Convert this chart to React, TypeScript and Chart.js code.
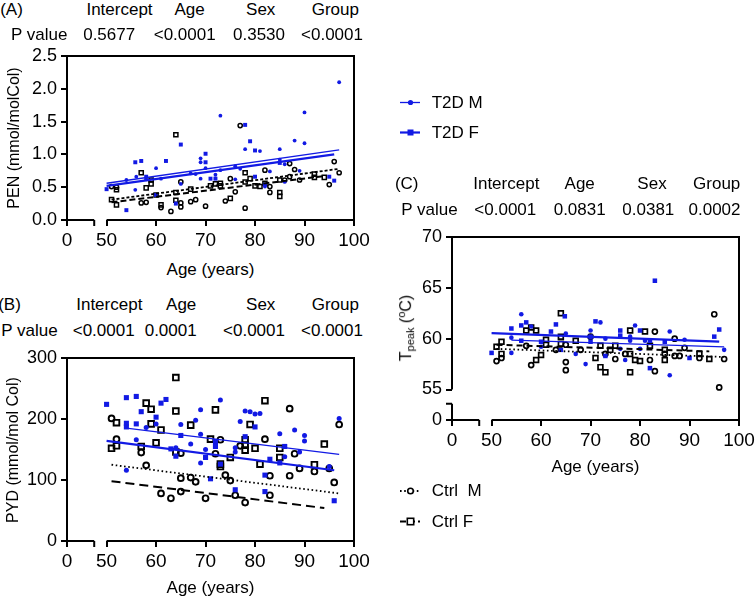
import { useEffect, useRef } from "react";
import { Chart, registerables } from "chart.js";

Chart.register(...registerables);

type Pt = [number, number];

const FONT = "'Liberation Sans', Arial, Helvetica, sans-serif";
const BLUE = "rgb(18, 26, 228)";
const INK = "#000";

// Age axis: the value X_ZERO is shown as "0", followed by a break up to 50.
const X_ZERO = 42;
const X_BREAK = 47.5;
const X_TICKS = [X_ZERO, 50, 60, 70, 80, 90, 100];

const HEAD_COLS = ["Intercept", "Age", "Sex", "Group"];

// ---------- (A) PEN ----------
const P_VALUES_A = ["0.5677", "<0.0001", "0.3530", "<0.0001"];
const PEN_Y_TICKS = [0, 0.5, 1, 1.5, 2, 2.5];
const PEN_T2D_M: Pt[] = [
  [54, 0.61], [56, 0.66], [55.8, 0.46], [58, 0.62], [60, 0.79], [61, 0.63], [65, 0.55],
  [69, 0.94], [69, 0.88], [70, 0.79], [69, 0.63], [67, 0.71], [68, 0.7], [73, 1.59],
  [73, 0.76], [72, 0.69], [78, 1.08], [77, 0.78], [76, 0.82], [76, 0.62], [81, 1.05],
  [82, 0.51], [83, 0.74], [85, 1.08], [85, 0.92], [86, 0.85], [86, 0.58], [88, 1.21],
  [89, 0.75], [90, 1.64], [90, 1.17], [97, 2.1],
];
const PEN_T2D_F: Pt[] = [
  [50, 0.47], [55.8, 0.88], [57, 0.9], [54, 0.15], [62, 0.9], [60, 0.38], [65, 1.15],
  [64, 0.25], [70, 1.01], [70, 0.88], [71, 0.63], [72, 0.63], [78, 1.45], [79, 1.2],
  [80, 1.06], [80, 0.66], [82, 0.54], [85, 0.87], [95, 0.66], [96, 0.6], [58, 0.66],
];
const PEN_CTRL_M: Pt[] = [
  [51, 0.51], [52, 0.5], [57, 0.26], [58, 0.27], [61, 0.19], [63, 0.13], [65, 0.58],
  [65, 0.26], [65, 0.2], [67, 0.28], [68, 0.31], [70, 0.21], [74, 0.29], [75, 0.63],
  [76, 0.43], [77, 1.44], [78, 0.18], [82, 0.76], [83, 0.51], [83, 0.42], [86, 0.61],
  [87, 0.86], [87, 0.66], [88, 0.77], [89, 0.61], [95, 0.54], [96, 0.89], [97, 0.72],
];
const PEN_CTRL_F: Pt[] = [
  [51, 0.31], [52, 0.46], [52, 0.23], [57, 0.72], [58, 0.49], [59, 0.55], [59, 0.61],
  [60, 0.38], [61, 0.23], [64, 1.3], [64, 0.42], [64, 0.3], [67, 0.47], [71, 0.52],
  [72, 0.55], [73, 0.56], [73, 0.52], [75, 0.33], [78, 0.72], [78, 0.58], [79, 0.63],
  [80, 0.52], [81, 0.51], [82, 0.56], [85, 0.42], [85, 0.36], [85, 0.61], [92, 0.7],
  [92, 0.65], [94, 0.65],
];
const PEN_FIT_T2D_M: Pt[] = [[50, 0.56], [97, 1.07]];
const PEN_FIT_T2D_F: Pt[] = [[50, 0.52], [96, 1.0]];
const PEN_FIT_CTRL_M: Pt[] = [[51, 0.31], [97, 0.78]];
const PEN_FIT_CTRL_F: Pt[] = [[51, 0.27], [94, 0.67]];

// ---------- (B) PYD ----------
const P_VALUES_B = ["<0.0001", "0.0001", "<0.0001", "<0.0001"];
const PYD_Y_TICKS = [0, 100, 200, 300];
const PYD_T2D_M: Pt[] = [
  [58, 186], [60, 192], [56, 166], [54, 116], [65, 191], [64, 153], [67, 159], [68, 198],
  [69, 215], [69, 175], [69, 128], [70, 150], [73, 231], [76, 146], [76, 153], [77, 196],
  [78, 213], [79, 212], [80, 208], [81, 209], [85, 176], [86, 138], [88, 182], [89, 146],
  [90, 173], [90, 164], [95, 122], [97, 201],
];
const PYD_T2D_F: Pt[] = [
  [50, 224], [54, 235], [56, 237], [57, 212], [61, 226], [62, 232], [54, 193], [54, 187],
  [56, 192], [60, 203], [65, 173], [63, 151], [64, 139], [70, 137], [71, 102], [72, 163],
  [72, 155], [73, 126], [76, 84], [78, 171], [80, 187], [82, 108], [82, 81], [83, 134],
  [85, 128], [86, 155], [96, 66],
];
const PYD_CTRL_M: Pt[] = [
  [51, 201], [52, 167], [57, 145], [58, 124], [61, 78], [63, 70], [65, 144], [65, 103],
  [65, 81], [67, 104], [68, 97], [70, 70], [72, 143], [73, 166], [74, 108], [75, 99],
  [76, 75], [77, 156], [78, 63], [82, 167], [83, 107], [83, 75], [87, 217], [87, 107],
  [88, 143], [89, 119], [92, 114], [95, 119], [96, 96], [97, 191],
];
const PYD_CTRL_F: Pt[] = [
  [51, 152], [52, 194], [52, 156], [57, 155], [58, 226], [59, 216], [59, 192], [60, 161],
  [61, 182], [64, 268], [64, 213], [64, 146], [67, 190], [71, 167], [72, 215], [73, 126],
  [73, 122], [75, 137], [78, 166], [78, 157], [78, 149], [79, 191], [80, 152], [81, 126],
  [82, 230], [85, 152], [85, 137], [92, 125], [94, 159],
];
const PYD_FIT_T2D_M: Pt[] = [[54, 185], [97, 142]];
const PYD_FIT_T2D_F: Pt[] = [[50, 164], [96, 116]];
const PYD_FIT_CTRL_M: Pt[] = [[51, 125], [97, 78]];
const PYD_FIT_CTRL_F: Pt[] = [[51, 98], [94, 54]];

// ---------- (C) Tpeak ----------
const P_VALUES_C = ["<0.0001", "0.0831", "0.0381", "0.0002"];
// Temperature axis: TP_Y_ZERO is shown as "0", with a break up to 55.
const TP_Y_ZERO = 52;
const TP_Y_BREAK = 53.6;
const TP_Y_TICKS = [TP_Y_ZERO, 55, 60, 65, 70];
const TP_T2D_M: Pt[] = [
  [54, 60.1], [54, 58.6], [56, 62.4], [58, 61.2], [60, 59.2], [65, 60.5], [67, 58.5],
  [69, 57.5], [70, 60.8], [72, 61.6], [73, 60.0], [76, 59.0], [77, 57.9], [78, 60.2],
  [78, 59.8], [79, 61.3], [80, 59.0], [81, 59.8], [86, 60.7], [86, 56.4], [89, 59.9],
  [97, 58.9],
];
const TP_T2D_F: Pt[] = [
  [50, 58.6], [54, 61.0], [56, 61.3], [57, 61.6], [56, 59.8], [60, 59.7], [62, 60.7],
  [63, 61.4], [64.8, 62.2], [64, 58.9], [70, 60.2], [70, 59.7], [71, 61.7], [73, 58.3],
  [76, 60.8], [76, 60.3], [80, 60.8], [82, 59.8], [82, 57.1], [83, 65.7], [85, 59.7],
  [90, 58.1], [95, 60.2], [96, 60.9],
];
const TP_CTRL_M: Pt[] = [
  [51, 57.8], [52, 58.1], [58, 57.4], [57, 59.3], [63, 58.9], [65, 57.7], [65, 56.9],
  [65, 59.4], [68, 58.9], [70, 60.2], [73, 58.5], [75, 58.0], [77, 58.5], [82, 57.9],
  [83, 60.7], [83, 56.8], [85, 58.5], [87, 60.0], [87, 58.3], [88, 58.3], [89, 59.1],
  [92, 58.1], [95, 62.4], [96, 55.2], [97, 58.0],
];
const TP_CTRL_F: Pt[] = [
  [51, 59.2], [52, 59.7], [52, 58.5], [57, 60.8], [58, 61.1], [59, 60.8], [59, 57.9],
  [60, 58.4], [61, 59.9], [61, 59.4], [64, 62.5], [64, 60.2], [64, 59.5], [67, 59.8],
  [71, 58.1], [72, 59.3], [72, 57.2], [73, 56.7], [74, 58.9], [75, 59.3], [78, 60.8],
  [78, 58.5], [78, 56.7], [79, 57.9], [80, 57.8], [81, 60.7], [82, 59.3], [85, 58.9],
  [85, 57.9], [92, 58.5], [94, 58.0],
];
const TP_FIT_T2D_M: Pt[] = [[54, 59.85], [97, 59.2]];
const TP_FIT_T2D_F: Pt[] = [[50, 60.55], [96, 59.7]];
const TP_FIT_CTRL_M: Pt[] = [[51, 59.0], [97, 58.2]];
const TP_FIT_CTRL_F: Pt[] = [[51, 59.4], [94, 58.75]];

const LEGEND_LABELS = ["T2D M", "T2D F", "Ctrl  M", "Ctrl F"];

interface PanelSpec {
  box: { left: number; top: number; width: number; height: number };
  area: { l: number; t: number; r: number; b: number };
  yMin: number;
  yMax: number;
  yTicks: number[];
  yLabel: (v: number) => string;
  yBreak?: number;
  yResume?: number;
  t2dM: Pt[];
  t2dF: Pt[];
  ctrlM: Pt[];
  ctrlF: Pt[];
  fits: Pt[][];
  sz: { dot: number; sq: number; circ: number; box: number; stroke: number };
  dashM: number[];
  dashF: number[];
  legend?: boolean;
}

const PANEL_A: PanelSpec = {
  box: { left: 0, top: 40, width: 380, height: 215 },
  area: { l: 67, t: 56, r: 354, b: 220 },
  yMin: 0,
  yMax: 2.5,
  yTicks: PEN_Y_TICKS,
  yLabel: (v) => v.toFixed(1),
  t2dM: PEN_T2D_M,
  t2dF: PEN_T2D_F,
  ctrlM: PEN_CTRL_M,
  ctrlF: PEN_CTRL_F,
  fits: [PEN_FIT_T2D_M, PEN_FIT_T2D_F, PEN_FIT_CTRL_M, PEN_FIT_CTRL_F],
  sz: { dot: 1.9, sq: 2.8, circ: 2.1, box: 2.9, stroke: 1.5 },
  dashM: [3, 2],
  dashF: [6, 3],
};

const PANEL_B: PanelSpec = {
  box: { left: 0, top: 340, width: 380, height: 250 },
  area: { l: 67, t: 358, r: 354, b: 541 },
  yMin: 0,
  yMax: 300,
  yTicks: PYD_Y_TICKS,
  yLabel: (v) => String(v),
  t2dM: PYD_T2D_M,
  t2dF: PYD_T2D_F,
  ctrlM: PYD_CTRL_M,
  ctrlF: PYD_CTRL_F,
  fits: [PYD_FIT_T2D_M, PYD_FIT_T2D_F, PYD_FIT_CTRL_M, PYD_FIT_CTRL_F],
  sz: { dot: 2.5, sq: 3.6, circ: 2.9, box: 4.0, stroke: 1.9 },
  dashM: [1.6, 2.6],
  dashF: [9, 5],
};

const PANEL_C: PanelSpec = {
  box: { left: 370, top: 80, width: 400, height: 460 },
  area: { l: 452, t: 237, r: 739, b: 420 },
  yMin: TP_Y_ZERO,
  yMax: 70,
  yTicks: TP_Y_TICKS,
  yLabel: (v) => (v === TP_Y_ZERO ? "0" : String(v)),
  yBreak: TP_Y_BREAK,
  yResume: 55,
  t2dM: TP_T2D_M,
  t2dF: TP_T2D_F,
  ctrlM: TP_CTRL_M,
  ctrlF: TP_CTRL_F,
  fits: [TP_FIT_T2D_M, TP_FIT_T2D_F, TP_FIT_CTRL_M, TP_FIT_CTRL_F],
  sz: { dot: 2.3, sq: 3.2, circ: 2.5, box: 3.4, stroke: 1.7 },
  dashM: [1.6, 2.6],
  dashF: [6, 4],
  legend: true,
};

const toXY = (pts: Pt[]) => pts.map(([x, y]) => ({ x, y }));

// Axis lines (with breaks), box frame and optional legend.
function framePlugin(p: PanelSpec) {
  return {
    id: "frame",
    afterDraw(chart: any) {
      const { ctx, chartArea: a } = chart;
      const xs = chart.scales.x;
      const ys = chart.scales.y;
      const xb = xs.getPixelForValue(X_BREAK);
      const x50 = xs.getPixelForValue(50);
      const yResume = p.yBreak != null ? ys.getPixelForValue(p.yResume) : a.bottom;
      ctx.save();
      ctx.strokeStyle = INK;
      ctx.lineWidth = 2;
      ctx.lineJoin = "miter";
      ctx.beginPath();
      ctx.moveTo(x50, a.bottom);
      ctx.lineTo(a.right, a.bottom);
      ctx.lineTo(a.right, a.top);
      ctx.lineTo(a.left, a.top);
      ctx.lineTo(a.left, yResume);
      if (p.yBreak == null) ctx.lineTo(xb, a.bottom);
      ctx.stroke();
      if (p.yBreak != null) {
        const yb = ys.getPixelForValue(p.yBreak);
        ctx.beginPath();
        ctx.moveTo(a.left, yb);
        ctx.lineTo(a.left, a.bottom);
        ctx.lineTo(xb, a.bottom);
        ctx.stroke();
        ctx.beginPath();
        ctx.moveTo(a.left - 6, yb);
        ctx.lineTo(a.left, yb);
        ctx.stroke();
      }
      ctx.beginPath();
      ctx.moveTo(xb, a.bottom);
      ctx.lineTo(xb, a.bottom + 6);
      ctx.stroke();

      if (p.legend) {
        const ox = p.box.left;
        const oy = p.box.top;
        const rows = [102.5, 132.5, 491, 521.5];
        ctx.font = `17px ${FONT}`;
        ctx.fillStyle = INK;
        ctx.textBaseline = "middle";
        rows.forEach((py, i) => {
          const y = py - oy;
          const x0 = 400 - ox;
          const x1 = 420 - ox;
          const cx = 410.5 - ox;
          const blue = i < 2;
          ctx.save();
          ctx.strokeStyle = blue ? BLUE : INK;
          ctx.lineWidth = i === 0 ? 1.3 : i === 1 ? 2.2 : 1.8;
          ctx.setLineDash(i === 2 ? [1.6, 2.6] : i === 3 ? [6, 3] : []);
          ctx.beginPath();
          ctx.moveTo(x0, y);
          ctx.lineTo(x1, y);
          ctx.stroke();
          ctx.setLineDash([]);
          if (i === 0) {
            ctx.fillStyle = BLUE;
            ctx.beginPath();
            ctx.arc(cx, y, 2.6, 0, Math.PI * 2);
            ctx.fill();
          } else if (i === 1) {
            ctx.fillStyle = BLUE;
            ctx.fillRect(cx - 3, y - 3, 6, 6);
          } else if (i === 2) {
            ctx.fillStyle = "#fff";
            ctx.lineWidth = 1.6;
            ctx.beginPath();
            ctx.arc(cx, y, 2.8, 0, Math.PI * 2);
            ctx.fill();
            ctx.stroke();
          } else {
            ctx.fillStyle = "#fff";
            ctx.lineWidth = 1.6;
            ctx.fillRect(cx - 3.2, y - 3.2, 6.4, 6.4);
            ctx.strokeRect(cx - 3.2, y - 3.2, 6.4, 6.4);
          }
          ctx.restore();
          ctx.fillText(LEGEND_LABELS[i], 431.7 - ox, y + 0.5);
        });
      }
      ctx.restore();
    },
  };
}

function buildChart(canvas: HTMLCanvasElement, p: PanelSpec) {
  const fit = (pts: Pt[], color: string, width: number, dash: number[]) => ({
    data: toXY(pts),
    showLine: true,
    borderColor: color,
    borderWidth: width,
    borderDash: dash,
    pointRadius: 0,
    fill: false,
  });
  const marks = (pts: Pt[], style: string, r: number, fillC: string, strokeC: string, bw: number) => ({
    data: toXY(pts),
    showLine: false,
    pointStyle: style,
    pointRadius: r,
    pointBackgroundColor: fillC,
    pointBorderColor: strokeC,
    pointBorderWidth: bw,
  });
  const clear = "rgba(0,0,0,0)";
  const tickGrid = {
    display: true,
    drawOnChartArea: false,
    drawTicks: true,
    tickLength: 6,
    lineWidth: 2,
    color: INK,
  };

  return new Chart(canvas, {
    type: "scatter",
    data: {
      datasets: [
        fit(p.fits[0], BLUE, 1.3, []),
        fit(p.fits[1], BLUE, 2.2, []),
        fit(p.fits[2], INK, 1.8, p.dashM),
        fit(p.fits[3], INK, 2, p.dashF),
        marks(p.t2dM, "circle", p.sz.dot, BLUE, BLUE, 0),
        marks(p.t2dF, "rect", p.sz.sq, BLUE, BLUE, 0),
        marks(p.ctrlM, "circle", p.sz.circ, clear, INK, p.sz.stroke),
        marks(p.ctrlF, "rect", p.sz.box, clear, INK, p.sz.stroke),
      ] as any,
    },
    options: {
      animation: false,
      responsive: false,
      events: [],
      layout: {
        padding: {
          left: 0,
          bottom: 0,
          top: p.area.t - p.box.top,
          right: p.box.left + p.box.width - p.area.r,
        },
      },
      plugins: { legend: { display: false }, tooltip: { enabled: false } },
      scales: {
        x: {
          type: "linear",
          min: X_ZERO,
          max: 100,
          afterBuildTicks: (s: any) => {
            s.ticks = X_TICKS.map((value) => ({ value }));
          },
          afterFit: (s: any) => {
            s.height = p.box.top + p.box.height - p.area.b;
          },
          grid: tickGrid,
          border: { display: false },
          ticks: {
            color: INK,
            font: { size: 19, family: FONT },
            padding: 3,
            maxRotation: 0,
            autoSkip: false,
            callback: (v: any) => (v === X_ZERO ? "0" : String(v)),
          },
        },
        y: {
          type: "linear",
          min: p.yMin,
          max: p.yMax,
          afterBuildTicks: (s: any) => {
            s.ticks = p.yTicks.map((value) => ({ value }));
          },
          afterFit: (s: any) => {
            s.width = p.area.l - p.box.left;
          },
          grid: tickGrid,
          border: { display: false },
          ticks: {
            color: INK,
            font: { size: 18, family: FONT },
            padding: 4,
            autoSkip: false,
            callback: (v: any) => p.yLabel(Number(v)),
          },
        },
      },
    } as any,
    plugins: [framePlugin(p) as any],
  });
}

function Panel({ spec }: { spec: PanelSpec }) {
  const ref = useRef<HTMLCanvasElement>(null);
  useEffect(() => {
    const chart = buildChart(ref.current!, spec);
    return () => chart.destroy();
  }, [spec]);
  return (
    <canvas
      ref={ref}
      width={spec.box.width}
      height={spec.box.height}
      style={{
        position: "absolute",
        left: spec.box.left,
        top: spec.box.top,
        width: spec.box.width,
        height: spec.box.height,
      }}
    />
  );
}

function Txt({ x, y, size = 17, children }: { x: number; y: number; size?: number; children: any }) {
  return (
    <div
      style={{
        position: "absolute",
        left: x,
        top: y,
        transform: "translate(-50%, -50%)",
        fontSize: size,
        lineHeight: 1,
        whiteSpace: "nowrap",
      }}
    >
      {children}
    </div>
  );
}

function VTxt({ x, y, size = 16, children }: { x: number; y: number; size?: number; children: any }) {
  return (
    <div
      style={{
        position: "absolute",
        left: x,
        top: y,
        transform: "translate(-50%, -50%) rotate(-90deg)",
        fontSize: size,
        lineHeight: 1,
        whiteSpace: "nowrap",
      }}
    >
      {children}
    </div>
  );
}

interface TableLayout {
  tag: string;
  tagX: number;
  headY: number;
  headX: number[];
  rowY: number;
  rowLabelX: number;
  valX: number[];
  values: string[];
}

const TABLES: TableLayout[] = [
  { tag: "(A)", tagX: 11.5, headY: 8.5, headX: [119.5, 189.5, 260.7, 335.3], rowY: 33.8, rowLabelX: 39.2, valX: [109.2, 184.7, 259, 332], values: P_VALUES_A },
  { tag: "(B)", tagX: 9.5, headY: 303.8, headX: [109.3, 181.2, 260.7, 335.3], rowY: 329.5, rowLabelX: 29.5, valX: [103.7, 170.7, 254, 332], values: P_VALUES_B },
  { tag: "(C)", tagX: 406.7, headY: 182.8, headX: [506.3, 579.7, 652, 716.7], rowY: 208.8, rowLabelX: 429.5, valX: [505.3, 579.7, 648.3, 714.5], values: P_VALUES_C },
];

export default function App() {
  return (
    <div
      style={{
        position: "fixed",
        left: 0,
        top: 0,
        width: 755,
        height: 598,
        overflow: "hidden",
        background: "#fff",
        color: INK,
        fontFamily: FONT,
      }}
    >
      <Panel spec={PANEL_A} />
      <Panel spec={PANEL_B} />
      <Panel spec={PANEL_C} />

      {TABLES.map((t) => (
        <div key={t.tag}>
          <Txt x={t.tagX} y={t.headY}>{t.tag}</Txt>
          {HEAD_COLS.map((h, i) => (
            <Txt key={h} x={t.headX[i]} y={t.headY}>{h}</Txt>
          ))}
          <Txt x={t.rowLabelX} y={t.rowY}>P value</Txt>
          {t.values.map((v, i) => (
            <Txt key={i} x={t.valX[i]} y={t.rowY}>{v}</Txt>
          ))}
        </div>
      ))}

      <Txt x={210.5} y={268.8}>Age (years)</Txt>
      <Txt x={210.5} y={587}>Age (years)</Txt>
      <Txt x={595.5} y={466}>Age (years)</Txt>

      <VTxt x={13.5} y={138}>PEN (mmol/molCol)</VTxt>
      <VTxt x={12.5} y={450}>PYD (mmol/mol Col)</VTxt>
      <VTxt x={406} y={328}>
        T<sub style={{ fontSize: 11, verticalAlign: "-0.25em" }}>peak</sub> (
        <sup style={{ fontSize: 11, verticalAlign: "0.55em" }}>o</sup>C)
      </VTxt>
    </div>
  );
}
